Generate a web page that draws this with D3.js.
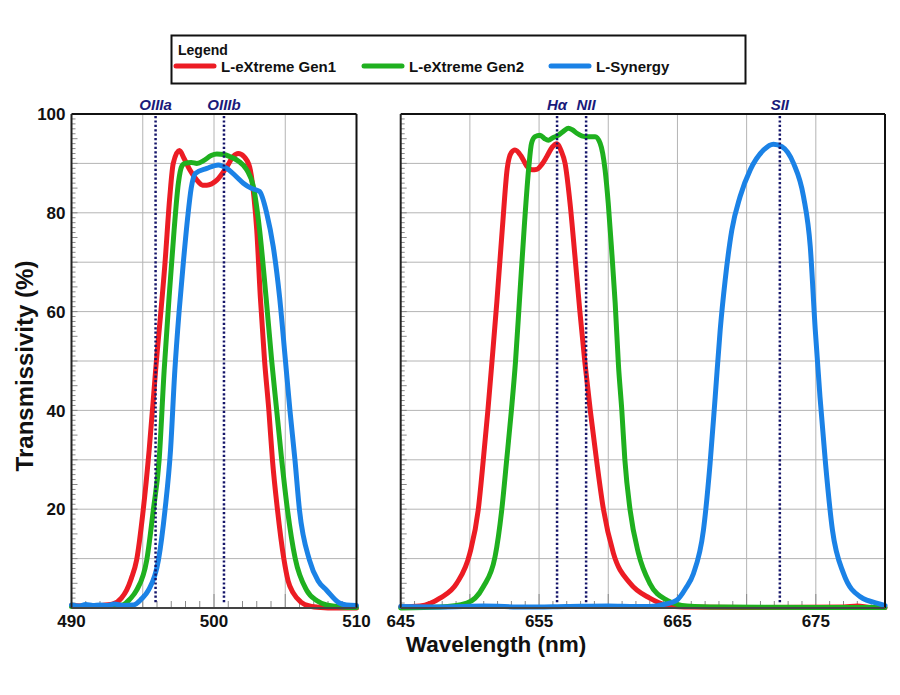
<!DOCTYPE html>
<html>
<head>
<meta charset="utf-8">
<script src="https://cdn.jsdelivr.net/npm/d3@7"></script>
<style>
  html, body { margin: 0; padding: 0; background: #fff; }
  svg { display: block; }
  text { font-family: "Liberation Sans", Arial, sans-serif; }
</style>
</head>
<body>
<svg id="chart" width="900" height="695"></svg>
<script>
// ---------------- DATA ----------------
const seriesNames = ["L-eXtreme Gen1", "L-eXtreme Gen2", "L-Synergy"];
const seriesColors = ["#ec1c24", "#1fb01f", "#1b82e6"];

// OIII panel (490-510 nm): [wavelength nm, transmissivity %]
const gen1_oiii = [[490,0.5],[491,0.4],[492,0.5],[492.9,0.8],[493.5,2],[493.87,3.6],[494.2,6],[494.57,9.7],[495.0,19],[495.45,32],[495.9,48],[496.56,69.8],[496.9,83.3],[497.14,90],[497.57,92.6],[497.9,91],[498.3,88.7],[498.8,86.6],[499.2,85.6],[499.5,85.6],[500.2,86.6],[500.9,89.3],[501.35,91.4],[501.7,92],[502.1,91.4],[502.5,89.3],[502.8,83.3],[503.0,76.5],[503.25,63],[503.55,50],[503.85,40],[504.1,30],[504.45,20],[504.9,10],[505.2,5.5],[505.57,3],[506.1,1.2],[506.7,0.4],[507.5,0.1],[508.5,0],[510,0]];
const gen2_oiii = [[490,0.3],[492,0.3],[493,0.4],[493.6,0.6],[494.1,1.8],[494.57,3.6],[495.28,9.7],[495.74,19.8],[496.15,30],[496.5,48],[496.85,63],[497.2,76.5],[497.5,86],[497.75,89.5],[497.96,90],[498.4,90.2],[498.8,90],[499.3,90.6],[499.8,91.6],[500.2,91.9],[500.7,91.8],[501.1,91.4],[501.7,90.5],[502.3,88.7],[502.76,85.3],[503.2,76.5],[503.65,63],[504.05,50],[504.4,40],[504.75,30],[505.15,20],[505.7,10],[506.5,3.6],[507.2,1.5],[507.9,0.6],[509,0.2],[510,0.1]];
const syn_oiii = [[490,0.6],[490.5,0.4],[491,0.7],[491.5,0.5],[492,0.6],[492.5,0.5],[493,0.8],[493.6,0.5],[494.34,0.6],[494.9,1.8],[495.4,3.6],[496.1,9.7],[496.56,19.8],[496.95,32],[497.25,48],[497.55,60],[497.85,70],[498.15,79],[498.4,85],[498.7,88],[499.5,89],[500.3,89.7],[500.9,89],[501.5,87.5],[502.06,86],[502.6,85],[503.2,84.3],[503.7,79.9],[504.16,73.1],[504.6,63],[505.0,50.5],[505.33,40],[505.68,30],[506.0,19.8],[506.7,9.7],[507.3,5.5],[507.9,3.6],[508.8,1],[509.3,0.6],[510,0.5]];

// H-alpha / NII / SII panel (645-680 nm)
const gen1_ha = [[645,0.2],[646.4,0.4],[647.84,2],[649.05,5],[650.0,11.1],[650.6,19.8],[650.97,30],[651.3,40],[651.6,50],[651.95,62],[652.35,77],[652.7,89],[653.0,92.2],[653.26,92.7],[653.7,91.5],[654.1,89.5],[654.5,88.7],[654.83,88.8],[655.2,89.8],[655.56,91.4],[655.95,93.3],[656.28,94],[656.6,92.5],[656.88,90],[657.24,81.9],[657.6,71],[657.95,60],[658.3,50],[658.7,40],[659.15,30],[659.65,20],[660.37,11.1],[661.58,5],[663.0,2],[664.2,0.6],[665.5,0.2],[670,0.1],[677,0.2],[678,0.4],[679,0.1],[680,0.1]];
const gen2_ha = [[645,0],[647.84,0.2],[649.77,1],[650.97,4.3],[651.82,10.4],[652.3,19.8],[652.66,30],[653.0,40],[653.3,50],[653.6,63],[653.95,78],[654.25,89],[654.45,94],[654.71,95.4],[655.07,95.7],[655.4,95],[655.67,94.7],[656.0,95.2],[656.4,95.7],[656.8,96.6],[657.12,97.1],[657.4,96.8],[657.73,96.1],[658.33,95.4],[659.05,95.4],[659.41,94.1],[659.77,88.7],[660.0,81.9],[660.26,71.8],[660.5,61.7],[660.74,49],[660.98,40],[661.2,30],[661.58,19.8],[662.18,11.1],[663.0,5],[664.23,1.6],[665.7,0.4],[668,0.2],[680,0.1]];
const syn_sii = [[645,0.3],[648,0.2],[651,0.4],[654,0.2],[657,0.3],[660,0.4],[662,0.3],[663.03,0.3],[664.0,0.7],[664.96,1.6],[665.6,4],[666.16,7],[666.88,15.8],[667.36,29.3],[667.73,42.8],[668.09,56.3],[668.45,66.4],[668.93,76.5],[669.53,83.3],[670.26,88.7],[671.22,92.7],[671.94,93.9],[672.55,93.4],[673.39,90],[674.11,83.3],[674.6,73.1],[674.96,56.3],[675.3,42.8],[675.7,29.3],[676.2,15.8],[677.0,7],[678.2,2.3],[679.9,0.6],[680,0.5]];

// Emission lines (nm)
const linesLeft = [{label: "OIIIa", wl: 495.9}, {label: "OIIIb", wl: 500.7}];
const linesRight = [{label: "H\u03b1", wl: 656.3}, {label: "NII", wl: 658.4}, {label: "SII", wl: 672.4}];

// Tick labels
const xTicksLeft = [490, 500, 510];
const xTicksRight = [645, 655, 665, 675];
const yTickLabels = [20, 40, 60, 80, 100];

// ---------------- DRAW ----------------
const svg = d3.select("#chart");
const yTop = 114, yBottom = 608;
const y = d3.scaleLinear().domain([0, 100]).range([yBottom, yTop]);
const fontBold = "bold";

function panel(xDomain, xRange, series, lines, xTickVals, gridStep, showYLabels) {
  const x = d3.scaleLinear().domain(xDomain).range(xRange);
  const g = svg.append("g");
  const [x0, x1] = xRange;

  // horizontal grid
  g.selectAll("line.hg").data(d3.range(10, 100, 10)).enter().append("line")
    .attr("x1", x0).attr("x2", x1).attr("y1", d => y(d)).attr("y2", d => y(d))
    .attr("stroke", "#b4b4b4").attr("stroke-width", 1);
  // vertical grid
  const vg = d3.range(xDomain[0] + gridStep, xDomain[1], gridStep);
  g.selectAll("line.vg").data(vg).enter().append("line")
    .attr("x1", d => x(d)).attr("x2", d => x(d)).attr("y1", yTop).attr("y2", yBottom)
    .attr("stroke", "#b4b4b4").attr("stroke-width", 1);

  // bottom minor ticks every 1 nm
  g.selectAll("line.bt").data(d3.range(xDomain[0] + 1, xDomain[1], 1)).enter().append("line")
    .attr("x1", d => x(d)).attr("x2", d => x(d)).attr("y1", yBottom)
    .attr("y2", d => yBottom - ((d - xDomain[0]) % 5 === 0 ? 14 : 7))
    .attr("stroke", "#8a8a8a").attr("stroke-width", 1);
  // left minor ticks every 1 %
  g.selectAll("line.lt").data(d3.range(1, 100, 1)).enter().append("line")
    .attr("y1", d => y(d)).attr("y2", d => y(d)).attr("x1", x0)
    .attr("x2", d => x0 + (d % 5 === 0 ? 6 : 4))
    .attr("stroke", "#8a8a8a").attr("stroke-width", 1);

  // curves
  const line = d3.line().x(d => x(d[0])).y(d => y(d[1])).curve(d3.curveMonotoneX);
  series.forEach((s, i) => {
    if (!s) return;
    g.append("path").datum(s).attr("d", line)
      .attr("fill", "none").attr("stroke", seriesColors[i])
      .attr("stroke-width", 5).attr("stroke-linejoin", "round").attr("stroke-linecap", "round");
  });

  // emission lines
  lines.forEach(l => {
    g.append("line").attr("x1", x(l.wl)).attr("x2", x(l.wl))
      .attr("y1", yTop + 2).attr("y2", yBottom - 4)
      .attr("stroke", "#15156a").attr("stroke-width", 2.5).attr("stroke-dasharray", "2.2,2.2");
    g.append("text").attr("x", x(l.wl)).attr("y", 110)
      .attr("text-anchor", "middle").attr("font-size", 15).attr("font-weight", fontBold)
      .attr("font-style", "italic").attr("fill", "#1a1a7a").text(l.label);
  });

  // frame
  g.append("line").attr("x1", x0).attr("x2", x1).attr("y1", yTop).attr("y2", yTop)
    .attr("stroke", "#111").attr("stroke-width", 2);
  g.append("line").attr("x1", x1).attr("x2", x1).attr("y1", yTop).attr("y2", yBottom)
    .attr("stroke", "#111").attr("stroke-width", 2);
  g.append("line").attr("x1", x0).attr("x2", x0).attr("y1", yTop).attr("y2", yBottom)
    .attr("stroke", "#222").attr("stroke-width", 2);
  g.append("line").attr("x1", x0).attr("x2", x1).attr("y1", yBottom).attr("y2", yBottom)
    .attr("stroke", "#444").attr("stroke-width", 2);

  // x tick labels
  g.selectAll("text.xt").data(xTickVals).enter().append("text")
    .attr("x", d => x(d)).attr("y", 627).attr("text-anchor", "middle")
    .attr("font-size", 17).attr("font-weight", fontBold).attr("fill", "#111").text(d => d);

  if (showYLabels) {
    g.selectAll("text.yt").data(yTickLabels).enter().append("text")
      .attr("x", x0 - 6).attr("y", d => y(d)).attr("dy", "0.36em").attr("text-anchor", "end")
      .attr("font-size", 17).attr("font-weight", fontBold).attr("fill", "#111").text(d => d);
  }
}

panel([490, 510], [71.5, 356.5], [gen1_oiii, gen2_oiii, syn_oiii], linesLeft, xTicksLeft, 5, true);
panel([645, 680], [400.7, 885], [gen1_ha, gen2_ha, syn_sii], linesRight, xTicksRight, 5, false);

// axis titles
svg.append("text").attr("x", 496).attr("y", 652).attr("text-anchor", "middle")
  .attr("font-size", 22.5).attr("font-weight", fontBold).attr("fill", "#111").text("Wavelength (nm)");
svg.append("text").attr("transform", "translate(33,366) rotate(-90)").attr("text-anchor", "middle")
  .attr("font-size", 24).attr("font-weight", fontBold).attr("fill", "#111").text("Transmissivity (%)");

// legend
const lg = svg.append("g");
lg.append("rect").attr("x", 171.5).attr("y", 35.5).attr("width", 574).attr("height", 48)
  .attr("fill", "#fff").attr("stroke", "#111").attr("stroke-width", 2);
lg.append("text").attr("x", 178).attr("y", 54.5).attr("font-size", 14).attr("font-weight", fontBold)
  .attr("fill", "#111").text("Legend");
const legX = [176, 364, 551];
seriesNames.forEach((n, i) => {
  lg.append("line").attr("x1", legX[i]).attr("x2", legX[i] + 38).attr("y1", 66).attr("y2", 66)
    .attr("stroke", seriesColors[i]).attr("stroke-width", 5).attr("stroke-linecap", "round");
  lg.append("text").attr("x", legX[i] + 45).attr("y", 72).attr("font-size", 15).attr("font-weight", fontBold)
    .attr("fill", "#111").text(n);
});
</script>
</body>
</html>
